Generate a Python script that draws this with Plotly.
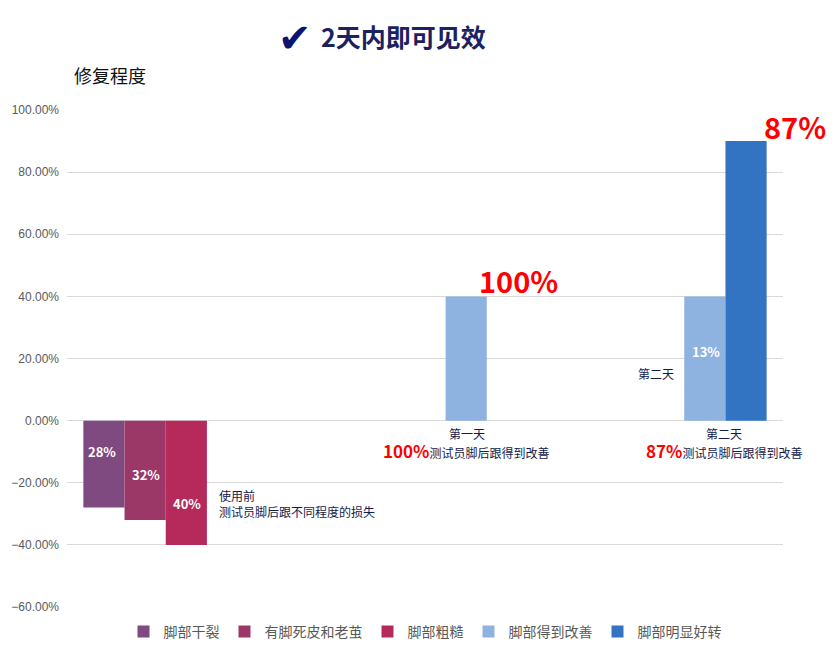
import plotly.graph_objects as go

CATEGORIES = ["使用前", "第一天", "第二天"]
SERIES = ["脚部干裂", "有脚死皮和老茧", "脚部粗糙", "脚部得到改善", "脚部明显好转"]
VALUES = [
    [-0.28, None, None],
    [-0.32, None, None],
    [-0.40, None, None],
    [None, 0.40, 0.40],
    [None, None, 0.90],
]
COLORS = ["#7e4a80", "#9c3868", "#b52a5a", "#8fb3e0", "#3274c2"]
Y_TICKS = [-0.6, -0.4, -0.2, 0.0, 0.2, 0.4, 0.6, 0.8, 1.0]

FONT = "Noto Sans CJK SC, Liberation Sans, sans-serif"
NAVY = "#141a4a"

fig = go.Figure()
for name, vals, color in zip(SERIES, VALUES, COLORS):
    fig.add_trace(go.Bar(x=CATEGORIES, y=vals, name=name, marker_color=color,
                         marker_line_width=0))


def note(text, x, y, size=12, color=NAVY, anchor="center", bold=False, align="center",
         family=FONT):
    if bold:
        text = f"<b>{text}</b>"
    fig.add_annotation(text=text, x=x, y=y, xref="paper", yref="paper",
                       showarrow=False, xanchor=anchor, yanchor="middle", align=align,
                       font=dict(size=size, color=color, family=family))


# bar value labels
note("28%", 0.049, 0.312, size=13, color="white", bold=True)
note("32%", 0.110, 0.266, size=13, color="white", bold=True)
note("40%", 0.168, 0.209, size=13, color="white", bold=True)
note("13%", 0.892, 0.515, size=13, color="white", bold=True)

note("使用前<br>测试员脚后跟不同程度的损失", 0.209, 0.209, anchor="left", align="left")
note("第一天", 0.559, 0.350)
note("<span style='color:red;font-size:17px'><b>100%</b></span>测试员脚后跟得到改善", 0.557, 0.314)
note("第二天", 0.918, 0.350)
note("<span style='color:red;font-size:17px'><b>87%</b></span>测试员脚后跟得到改善", 0.918, 0.314)
note("第二天", 0.823, 0.469)

note("100%", 0.631, 0.658, size=29, color="#ff0000", bold=True)
note("87%", 1.017, 0.968, size=29, color="#ff0000", bold=True)

# title and axis caption
note("✔", 0.318, 1.145, size=40, color="#0d1470", family="DejaVu Sans")
note("2天内即可见效", 0.352, 1.149, size=25, color="#1c2260", anchor="left", bold=True)
note("修复程度", 0.007, 1.070, size=18, color="#111111", anchor="left")

# page body adds an 8px offset, so the figure is drawn 8px smaller
fig.update_layout(
    barmode="group",
    bargap=0.137,
    bargroupgap=0,
    width=827,
    height=659,
    paper_bgcolor="white",
    plot_bgcolor="white",
    margin=dict(l=59, r=52, t=102, b=60, autoexpand=False),
    font=dict(family=FONT, color="#595959"),
    showlegend=True,
    legend=dict(orientation="h", x=0.5, xanchor="center", y=-0.018, yanchor="top",
                font=dict(size=14, color="#595959", family=FONT),
                itemwidth=30, tracegroupgap=0),
    xaxis=dict(showticklabels=False, showgrid=False, showline=False, ticks="",
               automargin=False, range=[-0.5, 2.5]),
    yaxis=dict(range=[-0.6, 1.0], tickvals=Y_TICKS, tickformat=".2%",
               gridcolor="#d9d9d9", zerolinecolor="#d9d9d9", zerolinewidth=1,
               tickfont=dict(size=12, color="#595959", family="Liberation Sans, Arial"),
               showline=False, ticks="", ticklabelstandoff=7, automargin=False),
)

fig.write_html("out.html")
